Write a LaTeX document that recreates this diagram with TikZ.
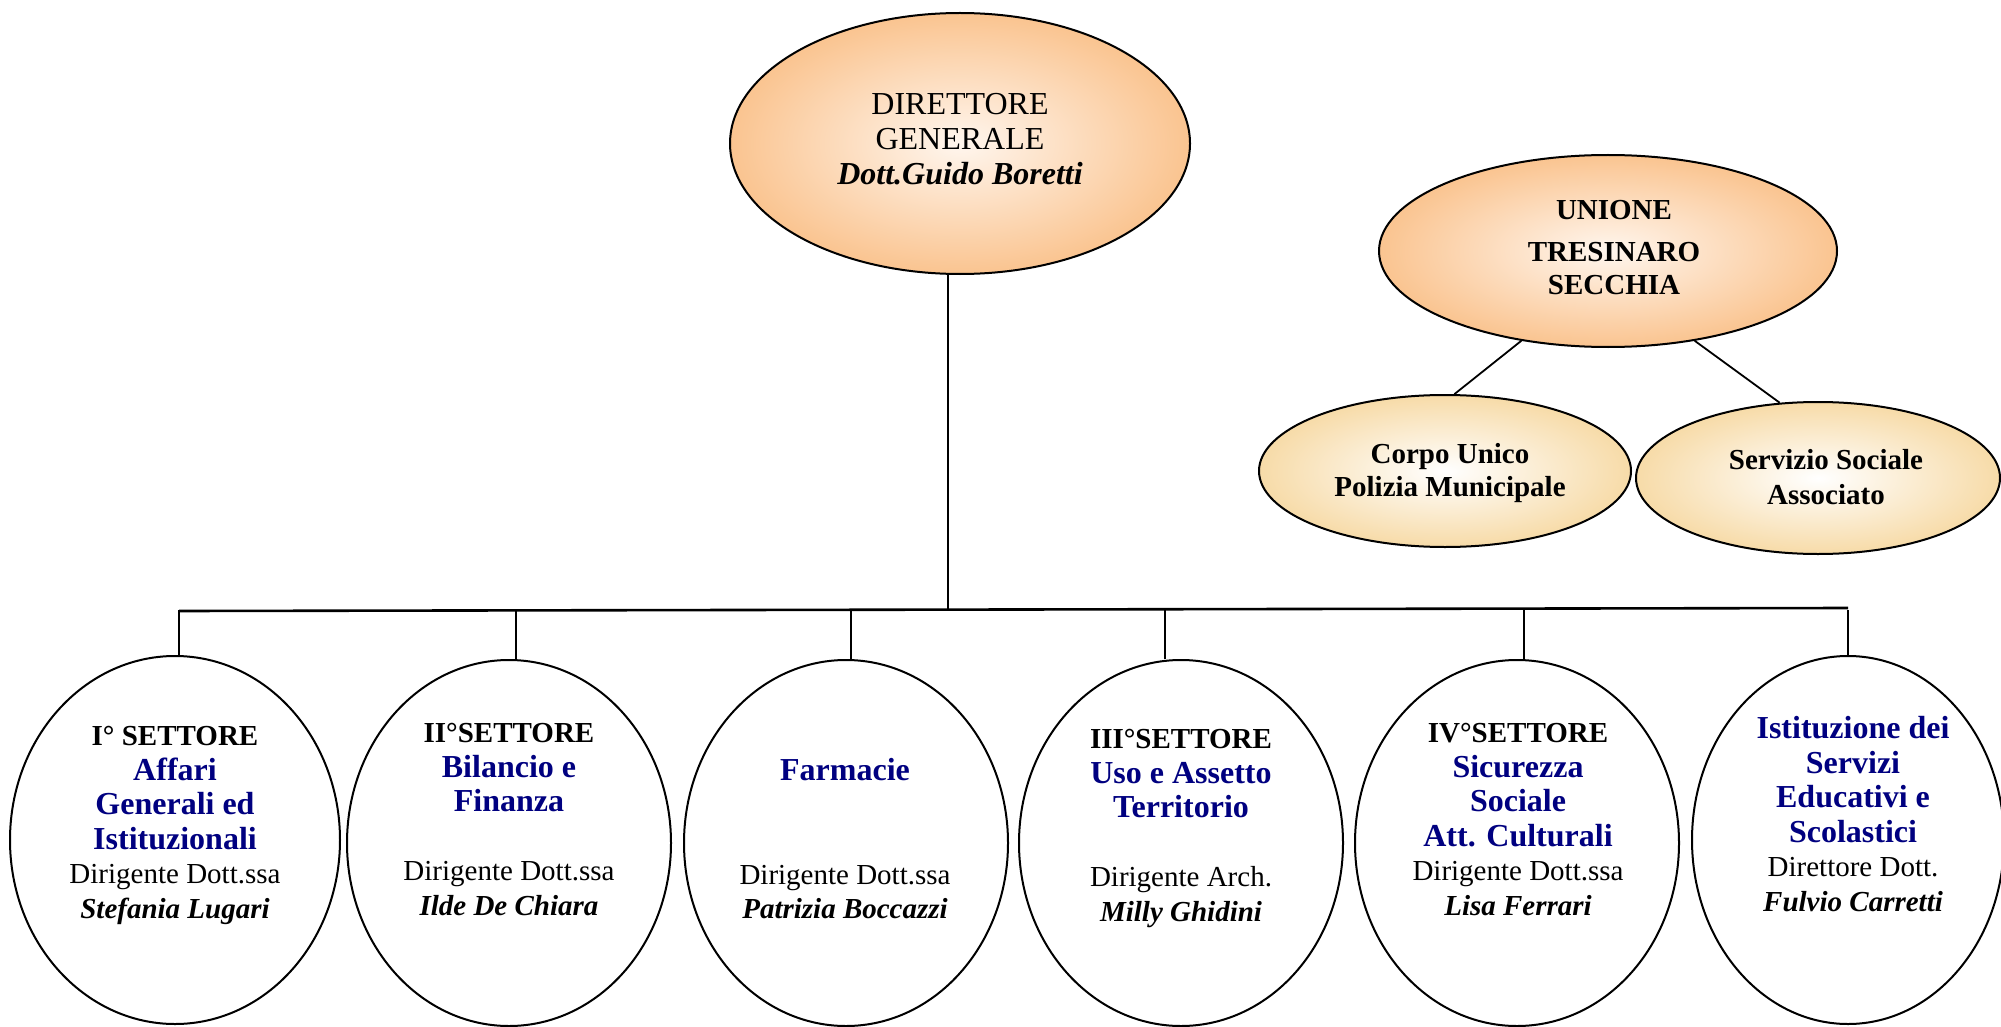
\documentclass[tikz,border=0pt]{standalone}
\usepackage{fontspec}
\setmainfont{Liberation Serif}
\usetikzlibrary{shapes.geometric}
\definecolor{navy}{RGB}{0,0,128}
\definecolor{peach}{RGB}{250,196,144}
\definecolor{peachin}{RGB}{255,246,238}
\definecolor{sand}{RGB}{247,219,168}
\newcommand{\bl}[1]{{\fontsize{16}{17.25}\selectfont\bfseries\color{navy}#1}}
\begin{document}
\begin{tikzpicture}[x=0.5pt,y=-0.5pt,
  oval/.style={ellipse,draw,line width=1pt,inner sep=0pt},
  head/.style={oval,shading=radial,inner color=peachin,outer color=peach},
  sub/.style={oval,shading=radial,inner color=white,outer color=sand},
  sector/.style={oval,fill=white,minimum width=162pt,minimum height=183pt},
  txt/.style={anchor=north,align=center,inner sep=0pt,font=\fontsize{14.5}{17.25}\selectfont},
  link/.style={line width=0.9pt},
  barline/.style={line width=1.3pt}
]
\useasboundingbox (0,0) rectangle (2001,1027);

% top
\node[head,minimum width=230pt,minimum height=130.5pt] (dg) at (960,143.5) {};
\node[txt,font=\fontsize{16}{17.5}\selectfont] (dgt) at (960,93) {DIRETTORE\\GENERALE\\\textbf{\textit{Dott.Guido Boretti}}};

% unione
\node[head,minimum width=229pt,minimum height=96pt] (un) at (1608,251) {};
\node[txt,font=\bfseries\fontsize{14.5}{16.5}\selectfont] (unt) at (1614,200) {UNIONE\\[4.5pt]TRESINARO\\SECCHIA};
\node[sub,minimum width=186pt,minimum height=76pt] (cp) at (1445,471) {};
\node[txt,font=\bfseries\fontsize{14.5}{16.5}\selectfont] (cpt) at (1450,443) {Corpo Unico\\Polizia Municipale};
\node[sub,minimum width=182pt,minimum height=76pt] (ss) at (1818,478) {};
\node[txt,font=\bfseries\fontsize{14.5}{17.5}\selectfont] (sst) at (1826,449) {Servizio Sociale\\Associato};
\draw[link] (un.226) -- (cp.83);
\draw[link] (un.314) -- (ss.117);

% sectors
\node[sector,minimum width=165pt,minimum height=184pt] (s1) at (175,840) {};
\node[sector] (s2) at (509,843) {};
\node[sector] (s3) at (846,843) {};
\node[sector] (s4) at (1181,843) {};
\node[sector] (s5) at (1517,843) {};
\node[sector,minimum width=156pt,minimum height=184pt] (s6) at (1848,840) {};

\node[txt] (t1) at (175,726) {\textbf{I° SETTORE}\\\bl{Affari}\\\bl{Generali ed}\\\bl{Istituzionali}\\Dirigente Dott.ssa\\\textbf{\textit{Stefania Lugari}}};
\node[txt] (t2) at (509,723) {\textbf{II°SETTORE}\\\bl{Bilancio e}\\\bl{Finanza}\\[17.25pt]Dirigente Dott.ssa\\\textbf{\textit{Ilde De Chiara}}};
\node[txt] (t3) at (845,758) {\bl{Farmacie}\\[34.5pt]Dirigente Dott.ssa\\\textbf{\textit{Patrizia Boccazzi}}};
\node[txt] (t4) at (1181,729) {\textbf{III°SETTORE}\\\bl{Uso e Assetto}\\\bl{Territorio}\\[17.25pt]Dirigente Arch.\\\textbf{\textit{Milly Ghidini}}};
\node[txt] (t5) at (1518,723) {\textbf{IV°SETTORE}\\\bl{Sicurezza}\\\bl{Sociale}\\\bl{Att. Culturali}\\Dirigente Dott.ssa\\\textbf{\textit{Lisa Ferrari}}};
\node[txt] (t6) at (1853,716) {\bl{Istituzione dei}\\\bl{Servizi}\\\bl{Educativi e}\\\bl{Scolastici}\\Direttore Dott.\\\textbf{\textit{Fulvio Carretti}}};

% connectors
\coordinate (j) at (948,610);
\draw[link] (j |- dg.south) -- (j);
\coordinate (bl) at (179,611);
\coordinate (br) at (1848,608);
\draw[barline] (bl) -- (br);
\foreach \i/\x in {1/179,2/516,3/851,4/1165,5/1524,6/1848}{
  \coordinate (d\i) at (\x,610);
  \draw[link] (d\i) -- (d\i |- s\i.north);
}
\end{tikzpicture}
\end{document}
